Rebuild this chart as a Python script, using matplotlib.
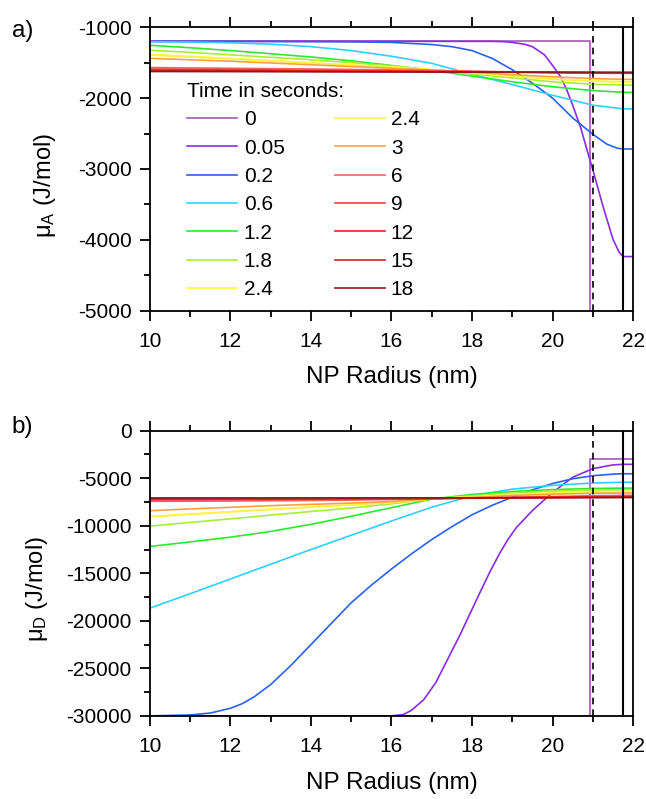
import numpy as np
import matplotlib
matplotlib.use('Agg')
import matplotlib.pyplot as plt
from matplotlib.ticker import MultipleLocator

plt.rcParams['font.family'] = ['Liberation Sans', 'DejaVu Sans']
plt.rcParams['mathtext.fontset'] = 'custom'
plt.rcParams['mathtext.rm'] = 'Liberation Sans'
plt.rcParams['mathtext.it'] = 'Liberation Sans:italic'
plt.rcParams['axes.unicode_minus'] = False

# legend entries (two "2.4" entries exist in the original)
times = ['0', '0.05', '0.2', '0.6', '1.2', '1.8', '2.4', '2.4', '3', '6', '9', '12', '15', '18']
colors = ['#a25bb2', '#8a2be8', '#2a62f0', '#30d0ff', '#30e830', '#a8f030', '#ffff33', '#fff04a',
          '#ffa040', '#ff6060', '#ff4040', '#ff1a1a', '#d02020', '#8b1a1a']

# common radius grid for the slowly varying curves (nm)
x_slow = [10, 11, 12, 13, 14, 15, 16, 17, 18, 19, 20, 21, 21.75, 22]

# ---- panel a: mu_A (J/mol) ----
a_x_t0 = [10, 20.93, 20.93, 22]
a_y_t0 = [-1200, -1200, -6000, -6000]
a_x_t005 = [10, 18.5, 18.8, 19.0, 19.3, 19.5, 19.8, 20.0, 20.2, 20.35, 20.5, 20.7, 20.85, 21.0, 21.25,
            21.5, 21.65, 21.75, 22]
a_y_t005 = [-1200, -1200, -1205, -1215, -1240, -1275, -1390, -1540, -1700, -1880, -2100, -2420, -2720,
            -3010, -3520, -3990, -4170, -4235, -4235]
a_x_t02 = [10, 13, 14, 15, 16, 17, 17.5, 18, 18.5, 19, 19.5, 20, 20.5, 21, 21.35, 21.6, 21.75, 22]
a_y_t02 = [-1200, -1202, -1204, -1207, -1215, -1245, -1275, -1330, -1440, -1600, -1790, -2000, -2280,
           -2510, -2650, -2705, -2718, -2718]
a_y_slow = [
    [-1205, -1210, -1220, -1240, -1275, -1330, -1410, -1510, -1665, -1810, -1960, -2100, -2152, -2155],  # 0.6
    [-1255, -1290, -1330, -1375, -1420, -1475, -1540, -1610, -1690, -1770, -1840, -1895, -1918, -1920],  # 1.2
    [-1325, -1355, -1390, -1425, -1460, -1500, -1545, -1600, -1660, -1715, -1770, -1805, -1815, -1817],  # 1.8
    [-1385, -1410, -1440, -1470, -1500, -1530, -1560, -1600, -1640, -1690, -1730, -1760, -1768, -1770],  # 2.4
    [-1395, -1420, -1450, -1478, -1507, -1537, -1567, -1605, -1645, -1693, -1733, -1762, -1770, -1772],  # 2.4
    [-1440, -1460, -1480, -1505, -1530, -1555, -1580, -1605, -1635, -1670, -1700, -1725, -1735, -1737],  # 3
    [-1570, -1575, -1580, -1585, -1590, -1597, -1603, -1610, -1620, -1630, -1640, -1648, -1651, -1652],  # 6
    [-1590, -1594, -1598, -1602, -1606, -1611, -1616, -1621, -1627, -1633, -1638, -1643, -1645, -1645],  # 9
    [-1605, -1608, -1611, -1614, -1617, -1620, -1624, -1627, -1631, -1635, -1638, -1641, -1642, -1642],  # 12
    [-1615, -1617, -1619, -1621, -1623, -1626, -1628, -1631, -1633, -1636, -1638, -1640, -1640, -1640],  # 15
    [-1625, -1626, -1627, -1628, -1629, -1630, -1631, -1632, -1634, -1635, -1636, -1637, -1638, -1638],  # 18
]

# ---- panel b: mu_D (J/mol) ----
b_x_t0 = [10, 20.93, 20.93, 22]
b_y_t0 = [-30000, -30000, -2950, -2950]
b_x_t005 = [10, 16, 16.3, 16.5, 16.8, 17.1, 17.4, 17.7, 17.9, 18.2, 18.45, 18.7, 18.9, 19.1, 19.5, 20,
            20.5, 21, 21.5, 21.75, 22]
b_y_t005 = [-30000, -30000, -29850, -29400, -28300, -26500, -24000, -21500, -19700, -17000, -14800,
            -12800, -11400, -10200, -8400, -6500, -4900, -4000, -3600, -3540, -3540]
b_x_t02 = [10, 11, 11.5, 12, 12.3, 12.6, 13, 13.5, 14, 14.5, 15, 15.5, 16, 16.5, 17, 17.5, 18, 18.5, 19,
           19.5, 20, 20.5, 21, 21.5, 21.75, 22]
b_y_t02 = [-30000, -29900, -29700, -29200, -28700, -27960, -26700, -24700, -22500, -20300, -18100, -16250,
           -14550, -12950, -11450, -10100, -8850, -7850, -7000, -6220, -5560, -5060, -4740, -4570, -4530, -4530]
b_y_slow = [
    [-18670, -17150, -15600, -14050, -12500, -11000, -9500, -8050, -6850, -6150, -5750, -5510, -5420, -5400],
    [-12180, -11700, -11200, -10600, -9850, -9000, -8100, -7200, -6700, -6400, -6200, -6080, -6045, -6040],
    [-10040, -9650, -9280, -8880, -8500, -8130, -7700, -7180, -6850, -6550, -6360, -6250, -6215, -6210],
    [-9020, -8760, -8510, -8250, -8010, -7790, -7540, -7170, -6950, -6700, -6530, -6430, -6395, -6390],
    [-9080, -8810, -8560, -8300, -8050, -7820, -7560, -7175, -6970, -6730, -6560, -6460, -6425, -6420],
    [-8420, -8230, -8060, -7890, -7750, -7620, -7450, -7160, -7030, -6820, -6680, -6590, -6562, -6560],
    [-7440, -7420, -7400, -7370, -7340, -7300, -7240, -7170, -7080, -7000, -6930, -6850, -6810, -6800],
    [-7300, -7290, -7275, -7260, -7240, -7215, -7185, -7150, -7100, -7040, -6980, -6930, -6905, -6900],
    [-7200, -7195, -7190, -7180, -7170, -7160, -7145, -7130, -7100, -7060, -7020, -6980, -6955, -6950],
    [-7130, -7128, -7125, -7120, -7115, -7110, -7100, -7090, -7075, -7060, -7040, -7020, -7005, -7000],
    [-7080, -7079, -7078, -7076, -7074, -7072, -7070, -7067, -7062, -7055, -7048, -7040, -7032, -7030],
]

dashed_x = 21.0
solid_x = 21.75


def style_axes(ax, ylim, ymajor, yminor, ylabel, ylabel_xy):
    ax.set_xlim(10, 22)
    ax.set_ylim(*ylim)
    ax.xaxis.set_major_locator(MultipleLocator(2))
    ax.xaxis.set_minor_locator(MultipleLocator(1))
    ax.yaxis.set_major_locator(MultipleLocator(ymajor))
    ax.yaxis.set_minor_locator(MultipleLocator(yminor))
    for s in ax.spines.values():
        s.set_linewidth(1.3)
    ax.tick_params(which='both', direction='out', width=1.3, labelsize=15, top=True, right=False)
    ax.tick_params(which='major', length=7)
    ax.tick_params(which='minor', length=4)
    ax.tick_params(axis='x', pad=8)
    ax.tick_params(axis='y', pad=6)
    ax.set_xlabel('NP Radius (nm)', fontsize=17.5)
    ax.xaxis.set_label_coords(0.5, -0.195)
    ax.set_ylabel(ylabel, fontsize=17)
    ax.yaxis.set_label_coords(*ylabel_xy)


def draw(ax, x0, y0, x005, y005, x02, y02, y_slow):
    lines = []
    lw = 1.2
    lines += ax.plot(x0, y0, color=colors[0], lw=lw)
    lines += ax.plot(x005, y005, color=colors[1], lw=lw)
    lines += ax.plot(x02, y02, color=colors[2], lw=lw)
    for i, ys in enumerate(y_slow):
        lines += ax.plot(x_slow, ys, color=colors[3 + i], lw=lw)
    ax.axvline(dashed_x, color='black', lw=1.2, ls=(0, (4, 3)))
    ax.axvline(solid_x, color='black', lw=1.5)
    return lines


fig = plt.figure(figsize=(6.46, 7.99), dpi=100)
ax1 = fig.add_axes([0.232, 0.611, 0.748, 0.355])
ax2 = fig.add_axes([0.232, 0.104, 0.748, 0.357])

lines = draw(ax1, a_x_t0, a_y_t0, a_x_t005, a_y_t005, a_x_t02, a_y_t02, a_y_slow)
style_axes(ax1, (-5000, -1000), 1000, 500, 'μ$_\\mathrm{A}$ (J/mol)', (-0.19, 0.44))
leg = ax1.legend(lines, times, ncol=2, title='Time in seconds:', frameon=False, fontsize=15,
                 title_fontsize=15, loc='upper left', bbox_to_anchor=(0.069, 0.822), handlelength=2.4,
                 columnspacing=2.4, labelspacing=0.45, handletextpad=0.3, borderpad=0.2,
                 borderaxespad=0, alignment='left')

draw(ax2, b_x_t0, b_y_t0, b_x_t005, b_y_t005, b_x_t02, b_y_t02, b_y_slow)
style_axes(ax2, (-30000, 0), 5000, 2500, 'μ$_\\mathrm{D}$ (J/mol)', (-0.207, 0.446))

fig.text(0.018, 0.961, 'a)', fontsize=17.5, va='center')
fig.text(0.018, 0.466, 'b)', fontsize=17.5, va='center')

fig.savefig('out.png', dpi=100)
